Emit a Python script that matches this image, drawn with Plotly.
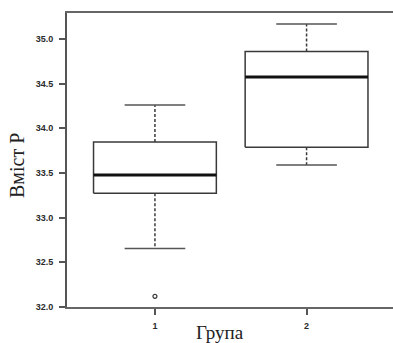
import plotly.graph_objects as go

groups = ["1", "2"]
positions = [1, 2]
lower_whisker = [32.656, 33.589]
q1 = [33.272, 33.787]
median = [33.477, 34.574]
q3 = [33.847, 34.858]
upper_whisker = [34.26, 35.168]
outlier_pos = [1]
outlier_val = [32.119]
y_ticks = [32.0, 32.5, 33.0, 33.5, 34.0, 34.5, 35.0]

box_half = 0.405
cap_half = 0.2
line_col = "#3a3a3a"

fig = go.Figure()
for p, lo, a, m, b, hi in zip(positions, lower_whisker, q1, median, q3, upper_whisker):
    fig.add_trace(go.Scatter(x=[p, p, None, p, p], y=[b, hi, None, a, lo], mode="lines",
                             line=dict(color=line_col, width=1.5, dash="3px,2px")))
    fig.add_trace(go.Scatter(x=[p - cap_half, p + cap_half, None, p - cap_half, p + cap_half],
                             y=[hi, hi, None, lo, lo], mode="lines",
                             line=dict(color="#555555", width=1.5)))
    fig.add_trace(go.Scatter(x=[p - box_half, p + box_half, p + box_half, p - box_half, p - box_half],
                             y=[a, a, b, b, a], mode="lines",
                             line=dict(color=line_col, width=1.5), fill="toself", fillcolor="white"))
    fig.add_trace(go.Scatter(x=[p - box_half, p + box_half], y=[m, m], mode="lines",
                             line=dict(color="#111111", width=3)))

fig.add_trace(go.Scatter(x=outlier_pos, y=outlier_val, mode="markers",
                         marker=dict(symbol="circle-open", size=4, color=line_col, line=dict(width=1.2))))

tickfont = dict(family="Liberation Sans", size=9, color="#2a2a2a", weight="bold")
titlefont = dict(family="Liberation Serif", size=19, color="#222222")

fig.update_layout(
    width=393, height=343,
    margin=dict(l=67, r=0, t=13, b=36),
    plot_bgcolor="white", paper_bgcolor="white",
    showlegend=False, hovermode=False,
    xaxis=dict(range=[0.42, 2.57], tickvals=positions, ticktext=groups, showgrid=False, zeroline=False,
               showline=True, mirror=True, linecolor="#666666", linewidth=2,
               ticks="outside", ticklen=6, tickwidth=1.5, tickcolor="#555555", tickfont=tickfont,
               ticklabelstandoff=3),
    yaxis=dict(range=[32.0, 35.29], tickvals=y_ticks, ticktext=[f"{v:.1f}" for v in y_ticks],
               showgrid=False, zeroline=False, showline=True, linecolor="#555555", linewidth=2,
               ticks="outside", ticklen=6, tickwidth=1.5, tickcolor="#555555", tickfont=tickfont,
               ticklabelstandoff=4),
    annotations=[
        dict(text="Група", xref="paper", yref="paper", x=0.469, y=-0.088, xanchor="center", yanchor="middle",
             showarrow=False, font=titlefont),
        dict(text="Вміст Р", xref="paper", yref="paper", x=-0.153, y=0.48, xanchor="center", yanchor="middle",
             showarrow=False, font=dict(family="Liberation Serif", size=20, color="#222222"), textangle=-90),
    ],
)

fig.write_html("out.html")
